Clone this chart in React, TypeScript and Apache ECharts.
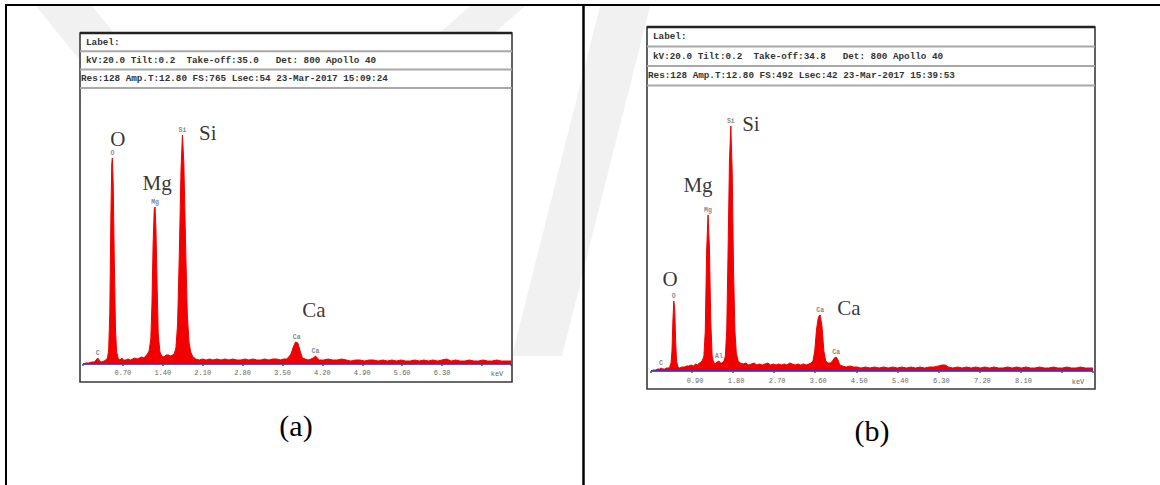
import React, { useEffect, useRef } from "react";
import * as echarts from "echarts";

// ---------- DATA ----------
// Panel (a) EDS spectrum: [energy keV, counts]
const spectrumA: [number, number][] = [
  [0.00,0],[0.05,1],[0.10,1],[0.15,2],[0.20,2],[0.23,4],[0.26,6],[0.29,3],[0.33,2],[0.37,3],[0.40,4],[0.43,6],[0.45,14],[0.47,50],[0.49,150],[0.505,200],[0.515,206],[0.53,180],[0.55,100],[0.57,35],[0.59,12],[0.62,5],[0.65,4],[0.68,6],[0.71,4],[0.75,4],[0.79,5],[0.83,4],[0.87,5],[0.91,6],[0.95,5],[0.99,6],[1.03,7],[1.07,6],[1.10,8],[1.13,10],[1.16,13],[1.19,25],[1.21,60],[1.23,120],[1.25,155],[1.265,157],[1.28,135],[1.30,80],[1.32,30],[1.35,12],[1.38,8],[1.42,7],[1.46,9],[1.50,9],[1.54,8],[1.57,9],[1.60,10],[1.63,16],[1.66,40],[1.69,110],[1.72,195],[1.745,229],[1.77,200],[1.80,120],[1.83,50],[1.86,22],[1.89,12],[1.93,7],[1.98,5],[2.04,4],[2.10,5],[2.16,4],[2.22,5],[2.28,4],[2.35,5],[2.42,4],[2.49,5],[2.56,4],[2.63,5],[2.70,4],[2.77,4],[2.84,5],[2.91,4],[2.98,5],[3.05,4],[3.12,4],[3.19,5],[3.26,4],[3.33,5],[3.40,5],[3.46,4],[3.52,5],[3.57,5],[3.61,7],[3.65,10],[3.69,17],[3.73,22],[3.77,21],[3.81,13],[3.85,6],[3.90,5],[3.95,4],[4.00,5],[4.04,6],[4.08,8],[4.11,6],[4.15,4],[4.22,4],[4.30,5],[4.38,4],[4.46,4],[4.54,5],[4.62,4],[4.70,3],[4.78,4],[4.86,4],[4.94,3],[5.02,4],[5.10,4],[5.18,3],[5.26,4],[5.34,3],[5.42,4],[5.50,3],[5.58,4],[5.66,3],[5.74,3],[5.82,4],[5.90,3],[5.98,4],[6.06,3],[6.14,4],[6.22,3],[6.30,4],[6.38,5],[6.46,3],[6.54,4],[6.62,3],[6.70,3],[6.78,4],[6.86,3],[6.94,3],[7.02,4],[7.10,3],[7.18,3],[7.26,4],[7.34,3],[7.42,3],[7.51,3]
];

// Panel (b) EDS spectrum: [energy keV, counts]
const spectrumB: [number, number][] = [
  [0.00,0],[0.05,1],[0.10,1],[0.15,2],[0.19,2],[0.22,3],[0.26,2],[0.30,2],[0.34,3],[0.38,3],[0.41,4],[0.44,8],[0.46,20],[0.48,50],[0.50,70],[0.52,62],[0.54,30],[0.56,10],[0.59,4],[0.63,3],[0.68,4],[0.73,4],[0.78,5],[0.83,5],[0.88,6],[0.93,5],[0.98,7],[1.02,6],[1.06,8],[1.10,9],[1.13,11],[1.16,15],[1.19,40],[1.22,120],[1.25,156],[1.28,125],[1.31,50],[1.34,15],[1.37,9],[1.41,7],[1.45,9],[1.49,10],[1.52,8],[1.56,8],[1.60,10],[1.63,15],[1.66,40],[1.69,120],[1.72,210],[1.75,245],[1.78,200],[1.81,100],[1.84,40],[1.87,18],[1.91,10],[1.96,8],[2.02,7],[2.08,8],[2.14,6],[2.20,7],[2.26,8],[2.32,6],[2.38,7],[2.44,6],[2.50,7],[2.56,8],[2.62,6],[2.68,7],[2.74,6],[2.80,7],[2.86,6],[2.92,7],[2.98,6],[3.04,8],[3.10,7],[3.16,6],[3.22,7],[3.28,6],[3.34,7],[3.40,6],[3.46,7],[3.51,8],[3.55,10],[3.59,20],[3.63,42],[3.67,54],[3.71,56],[3.75,44],[3.79,20],[3.83,10],[3.88,8],[3.93,8],[3.98,10],[4.02,13],[4.06,14],[4.10,11],[4.14,6],[4.20,5],[4.28,4],[4.36,5],[4.44,4],[4.52,4],[4.60,3],[4.70,4],[4.80,3],[4.90,4],[5.00,3],[5.10,4],[5.20,3],[5.30,4],[5.40,3],[5.50,4],[5.60,3],[5.70,4],[5.80,3],[5.90,4],[6.00,3],[6.10,4],[6.20,4],[6.30,5],[6.38,6],[6.45,6],[6.52,4],[6.62,3],[6.72,4],[6.82,3],[6.92,4],[7.02,3],[7.12,4],[7.22,3],[7.32,4],[7.42,3],[7.52,4],[7.62,3],[7.72,3],[7.82,4],[7.92,3],[8.02,4],[8.12,3],[8.22,4],[8.32,3],[8.42,3],[8.52,4],[8.62,3],[8.72,3],[8.82,4],[8.92,3],[9.02,3],[9.12,4],[9.22,3],[9.32,3],[9.42,4],[9.52,3],[9.69,3]
];

// instrument peak tags: [keV, counts, element]
const peakTagsA: [number, number, string][] = [
  [0.26, 6, "C"], [0.515, 206, "O"], [1.265, 157, "Mg"], [1.745, 229, "Si"], [3.75, 22, "Ca"], [4.08, 8, "Ca"],
];
const peakTagsB: [number, number, string][] = [
  [0.22, 3, "C"], [0.50, 70, "O"], [1.25, 156, "Mg"], [1.49, 10, "Al"], [1.75, 245, "Si"], [3.71, 56, "Ca"], [4.06, 14, "Ca"],
];

// large element annotations: [keV, counts, element]
const bigLabelsA: [number, number, string][] = [
  [0.61, 225, "O"], [1.30, 181, "Mg"], [2.19, 231, "Si"], [4.05, 54, "Ca"],
];
const bigLabelsB: [number, number, string][] = [
  [0.42, 92, "O"], [1.03, 186, "Mg"], [2.19, 247, "Si"], [4.34, 63, "Ca"],
];

const headerA = [
  "Label:",
  "kV:20.0 Tilt:0.2  Take-off:35.0   Det: 800 Apollo 40",
  "Res:128 Amp.T:12.80 FS:765 Lsec:54 23-Mar-2017 15:09:24",
];
const headerB = [
  "Label:",
  "kV:20.0 Tilt:0.2  Take-off:34.8   Det: 800 Apollo 40",
  "Res:128 Amp.T:12.80 FS:492 Lsec:42 23-Mar-2017 15:39:53",
];

const xMaxA = 7.51;
const xMaxB = 9.69;
const tickStepA = 0.7;
const tickStepB = 0.9;
const yMaxA = 276;
const yMaxB = 285;
const axisUnit = "keV";
const captions = ["(a)", "(b)"];

// ---------- STYLE ----------
const RED = "#f20000";
const BLUE = "#3434d6";
const MONO = "'Liberation Mono', 'DejaVu Sans Mono', monospace";
const SERIF = "'Liberation Serif', 'Times New Roman', serif";

function headerGraphics(lines: string[], x: number, top: number, rowH: number, width: number) {
  const els: any[] = [];
  lines.forEach((t, i) => {
    els.push({
      type: "text",
      z: 20,
      x: i === 2 ? x - 5 : x,
      y: top + rowH * i + rowH / 2,
      style: { text: t, fill: "#333", font: `bold 9.3px ${MONO}`, verticalAlign: "middle", align: "left" },
    });
    els.push({
      type: "line",
      z: 20,
      shape: { x1: x - 6, y1: top + rowH * (i + 1), x2: x - 6 + width, y2: top + rowH * (i + 1) },
      style: { stroke: "#a8a8a8", lineWidth: 2 },
    });
  });
  return els;
}

function boxGraphics(x: number, y: number, w: number, h: number) {
  return [
    { type: "rect", z: 1, shape: { x, y, width: w, height: h }, style: { fill: "#fff" } },
    { type: "rect", z: 20, shape: { x, y, width: w, height: h }, style: { fill: "none", stroke: "#3a3a3a", lineWidth: 1.6 } },
    { type: "line", z: 21, shape: { x1: x, y1: y, x2: x + w, y2: y }, style: { stroke: "#222", lineWidth: 2.6 } },
  ];
}

function spectrumSeries(idx: number, data: [number, number][]) {
  return {
    type: "line",
    xAxisIndex: idx,
    yAxisIndex: idx,
    data,
    showSymbol: false,
    symbol: "none",
    z: 4,
    lineStyle: { color: RED, width: 1 },
    itemStyle: { color: RED },
    areaStyle: { color: RED, opacity: 1 },
    silent: true,
    markLine: {
      silent: true,
      symbol: ["none", "none"],
      label: { show: false },
      lineStyle: { color: BLUE, width: 2, type: "solid", opacity: 0.85 },
      data: [{ yAxis: 0 }],
      z: 5,
    },
  };
}

function tagSeries(idx: number, data: [number, number, string][], big: boolean) {
  return {
    type: "scatter",
    xAxisIndex: idx,
    yAxisIndex: idx,
    data,
    symbolSize: 1,
    z: 6,
    silent: true,
    itemStyle: { color: "rgba(0,0,0,0)" },
    label: big
      ? {
          show: true,
          position: "inside",
          formatter: (p: any) => p.data[2],
          fontFamily: SERIF,
          fontSize: 21,
          color: "#000",
        }
      : {
          show: true,
          position: "top",
          distance: 1,
          formatter: (p: any) => p.data[2],
          fontFamily: MONO,
          fontSize: 6.5,
          fontWeight: "bold",
          color: "#666",
        },
  };
}

function xAxisDef(idx: number, max: number, step: number, margin: number, pad: number) {
  return {
    type: "value",
    gridIndex: idx,
    z: 10,
    min: 0,
    max,
    interval: step,
    splitLine: { show: false },
    axisLine: { show: false },
    axisTick: { show: true, length: 2, lineStyle: { color: "#555", width: 1.5 } },
    axisLabel: {
      show: true,
      margin,
      padding: [0, 0, 0, pad],
      fontFamily: MONO,
      fontSize: 7,
      color: "#666",
      formatter: (v: number) => (v < 0.01 || v > step * 9.5 ? "" : v.toFixed(2)),
    },
  };
}

export default function App() {
  const ref = useRef<HTMLDivElement>(null);

  useEffect(() => {
    if (!ref.current) return;
    const chart = echarts.init(ref.current, undefined, { renderer: "svg" });

    const graphic: any[] = [
      // faint watermark bands
      { type: "polygon", z: 0, shape: { points: [[36, 6], [92, 6], [160, 90], [104, 90]] }, style: { fill: "#f1f1f1" } },
      { type: "polygon", z: 0, shape: { points: [[470, 6], [525, 6], [430, 90], [375, 90]] }, style: { fill: "#f1f1f1" } },
      { type: "polygon", z: 0, shape: { points: [[600, 6], [650, 6], [562, 356], [512, 356]] }, style: { fill: "#f1f1f1" } },
      // table rules
      { type: "line", z: 30, shape: { x1: 5, y1: 5, x2: 1160, y2: 5 }, style: { stroke: "#000", lineWidth: 2 } },
      { type: "line", z: 30, shape: { x1: 6, y1: 5, x2: 6, y2: 485 }, style: { stroke: "#000", lineWidth: 2 } },
      { type: "line", z: 30, shape: { x1: 583.5, y1: 5, x2: 583.5, y2: 485 }, style: { stroke: "#000", lineWidth: 2.5 } },
      // spectrum boxes
      ...boxGraphics(80, 33, 432, 349),
      ...boxGraphics(647, 27, 448, 362),
      ...headerGraphics(headerA, 86, 33, 18.3, 432),
      ...headerGraphics(headerB, 653, 27, 19.5, 448),
      // axis unit labels
      { type: "text", z: 20, x: 497, y: 374, style: { text: axisUnit, fill: "#666", font: `7px ${MONO}`, align: "center", verticalAlign: "middle" } },
      { type: "text", z: 20, x: 1078, y: 382, style: { text: axisUnit, fill: "#666", font: `7px ${MONO}`, align: "center", verticalAlign: "middle" } },
      // captions
      { type: "text", z: 20, x: 296, y: 425, style: { text: captions[0], fill: "#000", font: `30px ${SERIF}`, align: "center", verticalAlign: "middle" } },
      { type: "text", z: 20, x: 872, y: 430, style: { text: captions[1], fill: "#000", font: `30px ${SERIF}`, align: "center", verticalAlign: "middle" } },
    ];

    chart.setOption({
      animation: false,
      backgroundColor: "#fff",
      grid: [
        { left: 83, top: 88, width: 428, height: yMaxA, containLabel: false },
        { left: 651, top: 86, width: 442, height: yMaxB, containLabel: false },
      ],
      xAxis: [xAxisDef(0, xMaxA, tickStepA, 5, 0), xAxisDef(1, xMaxB, tickStepB, 6, 6)],
      yAxis: [
        { type: "value", gridIndex: 0, min: 0, max: yMaxA, show: false },
        { type: "value", gridIndex: 1, min: 0, max: yMaxB, show: false },
      ],
      graphic,
      series: [
        spectrumSeries(0, spectrumA),
        spectrumSeries(1, spectrumB),
        tagSeries(0, peakTagsA, false),
        tagSeries(1, peakTagsB, false),
        tagSeries(0, bigLabelsA, true),
        tagSeries(1, bigLabelsB, true),
      ],
    });

    return () => chart.dispose();
  }, []);

  return (
    <div
      ref={ref}
      style={{ position: "fixed", left: 0, top: 0, width: 1160, height: 485, background: "#fff" }}
    />
  );
}
